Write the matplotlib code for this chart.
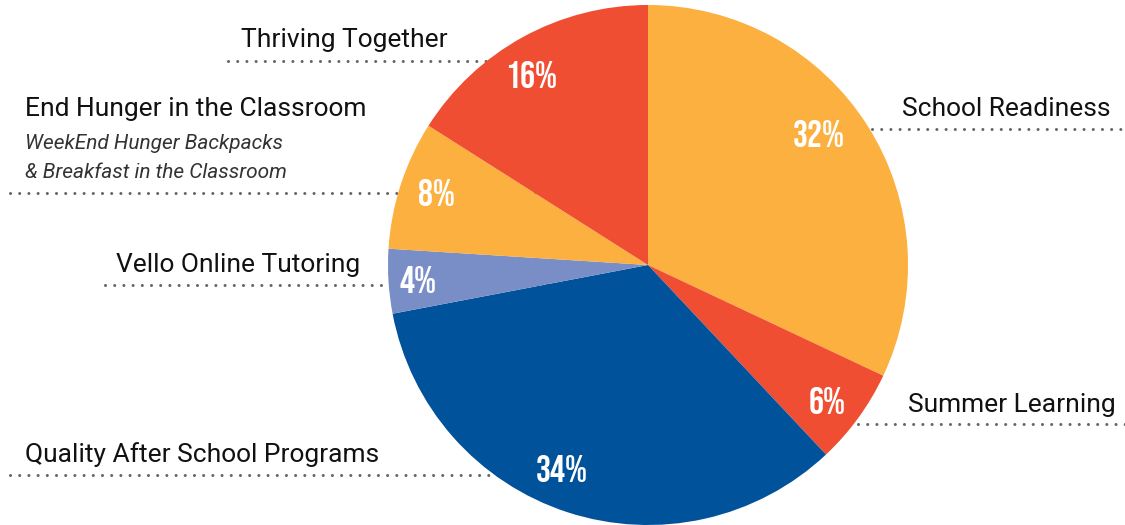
import matplotlib
matplotlib.use("Agg")
import matplotlib.pyplot as plt

labels = ['School Readiness', 'Summer Learning', 'Quality After School Programs',
          'Vello Online Tutoring', 'End Hunger in the Classroom', 'Thriving Together']
values = [32, 6, 34, 4, 8, 16]
colors = ['#FBB040', '#F04E32', '#00529B', '#798DC6', '#FBB040', '#F04E32']
sub_text = 'WeekEnd Hunger Backpacks\n& Breakfast in the Classroom'

# small nudges (px) for the percent labels, same order as values
nudge = [(-18, -12), (-2, 4), (-17, -9), (-7, 0), (1, -3), (-9, 5)]

W, H = 1125, 525
fig = plt.figure(figsize=(W / 100, H / 100), dpi=100)
ax = fig.add_axes([0, 0, 1, 1])

# dotted leader lines (drawn under the pie)
dot = dict(color='#666666', lw=2.2, linestyle=(0, (0.01, 3.0)),
           dash_capstyle='round', zorder=1)
ax.plot([228, 640], [61, 61], **dot)
ax.plot([10, 640], [193, 193], **dot)
ax.plot([105, 640], [285, 285], **dot)
ax.plot([10, 640], [475, 475], **dot)
ax.plot([872, 1125], [129, 129], **dot)
ax.plot([858, 1125], [424, 424], **dot)

# pie on an inverted y axis, so counterclock here looks clockwise
wedges, _, autotexts = ax.pie(values, colors=colors, startangle=-90, counterclock=True,
                              center=(648, 265), radius=260, frame=True,
                              autopct='%d%%', pctdistance=0.86,
                              wedgeprops=dict(linewidth=0))
ax.set_xlim(0, W)
ax.set_ylim(H, 0)
ax.set_aspect('equal')
ax.axis('off')
for w in wedges:
    w.set_zorder(2)
for t, (dx, dy) in zip(autotexts, nudge):
    x, y = t.get_position()
    t.set_position((x + dx, y + dy))
    t.set_color('white')
    t.set_fontfamily(['Bebas Neue', 'DejaVu Sans'])
    t.set_fontsize(27)
    t.set_zorder(3)

lab = dict(fontfamily='Roboto', fontsize=19, color='#111111', va='center')
ax.text(448, 40, labels[5], ha='right', **lab)
ax.text(25, 109, labels[4], ha='left', **lab)
ax.text(25, 158, sub_text, ha='left', va='center', fontfamily='Roboto',
        fontstyle='italic', fontsize=15, color='#333333', linespacing=1.7)
ax.text(360, 265, labels[3], ha='right', **lab)
ax.text(25, 455, labels[2], ha='left', **lab)
ax.text(902, 109, labels[0], ha='left', **lab)
ax.text(908, 405, labels[1], ha='left', **lab)

fig.savefig('out.png', dpi=100, facecolor='white')
